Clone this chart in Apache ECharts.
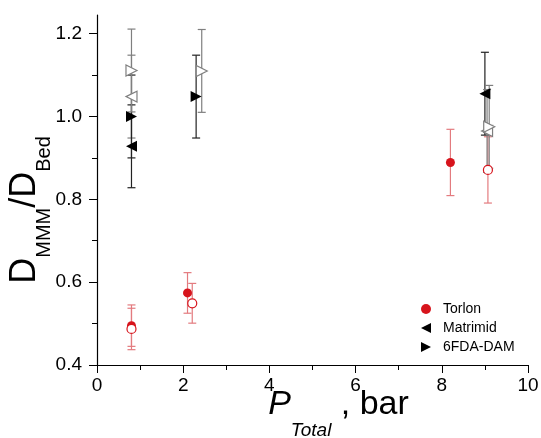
<!DOCTYPE html>
<html><head><meta charset="utf-8">
<script src="https://cdn.jsdelivr.net/npm/echarts@6/dist/echarts.min.js"></script>
<style>html,body{margin:0;padding:0;background:#fff}#c{width:541px;height:438px}</style>
</head><body><div id="c"></div>
<script>
// ---- data ----
const torlonX = [0.8, 2.1, 8.2];
const torlonY = [0.495, 0.574, 0.889];
const torlonErr = [0.05, 0.049, 0.08];
const torlonOpenX = [0.8, 2.21, 9.07];
const torlonOpenY = [0.487, 0.549, 0.871];
const torlonOpenErr = [0.05, 0.048, 0.08];
const matrimidX = [0.8, 9.0];
const matrimidY = [0.928, 1.055];
const matrimidErr = [0.1, 0.1];
const matrimidOpenX = [0.8, 9.05];
const matrimidOpenY = [1.048, 0.965];
const matrimidOpenErr = [0.1, 0.1];
const fdaX = [0.8, 2.3];
const fdaY = [1.0, 1.048];
const fdaErr = [0.1, 0.1];
const fdaOpenX = [0.8, 2.43, 9.1];
const fdaOpenY = [1.111, 1.11, 0.975];
const fdaOpenErr = [0.1, 0.1, 0.1];
const xTicks = [0, 2, 4, 6, 8, 10];
const yTicks = [0.4, 0.6, 0.8, 1.0, 1.2];
const yMinor = [0.5, 0.7, 0.9, 1.1];
const legendNames = ['Torlon', 'Matrimid', '6FDA-DAM'];

const FONT = '"Liberation Sans", Arial, sans-serif';
const RED = '#d7141c';
const RED_ERR = '#e37b7f';
const GRAY = '#7f7f7f';
const LEFT_TRI = 'path://M0,5L10,0L10,10Z';
const RIGHT_TRI = 'path://M10,5L0,0L0,10Z';

function pts(xs, ys) { return xs.map((x, i) => [x, ys[i]]); }
function errSeries(xs, ys, es, color) {
  return {
    type: 'custom', z: 1, silent: true, clip: false,
    data: xs.map((x, i) => [x, ys[i] - es[i], ys[i] + es[i]]),
    encode: { x: 0, y: [1, 2] },
    renderItem(params, api) {
      const lo = api.coord([api.value(0), api.value(1)]);
      const hi = api.coord([api.value(0), api.value(2)]);
      const w = 4;
      const st = { stroke: color, lineWidth: 1.2 };
      return { type: 'group', children: [
        { type: 'line', shape: { x1: lo[0], y1: lo[1], x2: hi[0], y2: hi[1] }, style: st },
        { type: 'line', shape: { x1: lo[0] - w, y1: lo[1], x2: lo[0] + w, y2: lo[1] }, style: st },
        { type: 'line', shape: { x1: hi[0] - w, y1: hi[1], x2: hi[0] + w, y2: hi[1] }, style: st }
      ]};
    }
  };
}
function scatter(name, xs, ys, symbol, size, fill, stroke) {
  return {
    type: 'scatter', name, z: 3, symbol, symbolSize: size,
    data: pts(xs, ys),
    itemStyle: { color: fill, borderColor: stroke, borderWidth: fill === '#fff' ? 1.2 : 0, opacity: 1 }
  };
}

const legendText = { fontFamily: FONT, fontSize: 14, color: '#000', lineHeight: 14, padding: [0, 0, 0, 7] };
const chart = echarts.init(document.getElementById('c'));
chart.setOption({
  animation: false,
  backgroundColor: '#fff',
  grid: { left: 97, right: 13, top: 15, bottom: 73, containLabel: false, outerBoundsMode: 'none' },
  legend: {
    data: [
      { name: legendNames[0], icon: 'circle' },
      { name: legendNames[1], icon: LEFT_TRI },
      { name: legendNames[2], icon: RIGHT_TRI }
    ],
    orient: 'vertical', left: 416, top: 297,
    itemWidth: 10, itemHeight: 10, itemGap: 5,
    textStyle: legendText
  },
  xAxis: {
    type: 'value', min: 0, max: 10, interval: 2,
    name: '{P|P}{sub|Total}{n| , bar}', nameLocation: 'middle', nameGap: 23, nameMoveOverlap: false,
    nameTextStyle: {
      padding: [0, 0, 0, 52],
      rich: {
        P: { fontFamily: FONT, fontSize: 34, fontStyle: 'italic', color: '#000', lineHeight: 36, verticalAlign: 'top' },
        n: { fontFamily: FONT, fontSize: 34, color: '#000', lineHeight: 36, verticalAlign: 'top' },
        sub: { fontFamily: FONT, fontSize: 19, fontStyle: 'italic', color: '#000', lineHeight: 14, verticalAlign: 'top', padding: [33, 0, 0, 0] }
      }
    },
    axisLine: { lineStyle: { color: '#000', width: 1.2 } },
    axisTick: { length: 8, lineStyle: { color: '#000' } },
    minorTick: { show: true, splitNumber: 2, length: 5, lineStyle: { color: '#000' } },
    axisLabel: { fontFamily: FONT, fontSize: 19, color: '#000', margin: 11 },
    splitLine: { show: false }
  },
  yAxis: [{
    type: 'value', min: 0.4, max: 1.245,
    name: '{D|D}{sub|MMM}{D|/D}{sub|Bed}', nameLocation: 'middle', nameRotate: 90, nameGap: 52, nameMoveOverlap: false,
    nameTextStyle: {
      padding: [0, 40, 0, 0],
      rich: {
        D: { fontFamily: FONT, fontSize: 36, color: '#000', lineHeight: 38, verticalAlign: 'top' },
        sub: { fontFamily: FONT, fontSize: 20, color: '#000', lineHeight: 14, verticalAlign: 'top', padding: [27, 0, 0, 0] }
      }
    },
    axisLine: { show: true, lineStyle: { color: '#000', width: 1.2 } },
    axisTick: { show: true, length: 8, customValues: yTicks, lineStyle: { color: '#000' } },
    axisLabel: { fontFamily: FONT, fontSize: 19, color: '#000', margin: 15, customValues: yTicks, formatter: v => v.toFixed(1) },
    splitLine: { show: false }
  }, {
    type: 'value', min: 0.4, max: 1.245, position: 'left',
    axisLine: { show: false },
    axisTick: { show: true, length: 5, customValues: yMinor, lineStyle: { color: '#000' } },
    axisLabel: { show: false },
    splitLine: { show: false }
  }],
  series: [
    errSeries(torlonX, torlonY, torlonErr, RED_ERR),
    errSeries(torlonOpenX, torlonOpenY, torlonOpenErr, RED_ERR),
    errSeries(matrimidX, matrimidY, matrimidErr, '#222'),
    errSeries(matrimidOpenX, matrimidOpenY, matrimidOpenErr, GRAY),
    errSeries(fdaX, fdaY, fdaErr, '#222'),
    errSeries(fdaOpenX, fdaOpenY, fdaOpenErr, GRAY),
    scatter('Torlon', torlonX, torlonY, 'circle', 9, RED, RED),
    scatter('Torlon (open)', torlonOpenX, torlonOpenY, 'circle', 9, '#fff', RED),
    scatter('Matrimid', matrimidX, matrimidY, LEFT_TRI, 11, '#000', '#000'),
    scatter('Matrimid (open)', matrimidOpenX, matrimidOpenY, LEFT_TRI, 11, '#fff', GRAY),
    scatter('6FDA-DAM', fdaX, fdaY, RIGHT_TRI, 11, '#000', '#000'),
    scatter('6FDA-DAM (open)', fdaOpenX, fdaOpenY, RIGHT_TRI, 11, '#fff', GRAY)
  ]
});
</script></body></html>
